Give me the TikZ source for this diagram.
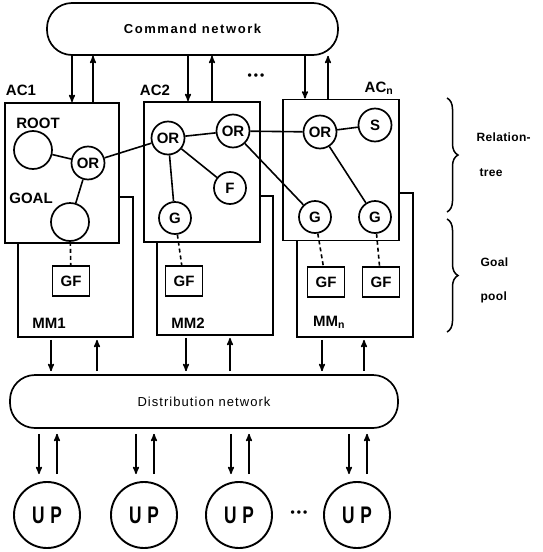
\documentclass[tikz,border=0pt]{standalone}
\usepackage{fontspec}
\setmainfont{Liberation Sans}
\usetikzlibrary{positioning}
\usetikzlibrary{arrows}
\usetikzlibrary{decorations.pathreplacing}
\newcommand{\lblfont}{\bfseries\fontsize{15}{17}\selectfont}
\newcommand{\netfont}{\bfseries\fontsize{13}{15}\selectfont\addfontfeatures{LetterSpace=12}}
\newcommand{\distfont}{\fontsize{13}{15}\selectfont\addfontfeatures{LetterSpace=8}}
\newcommand{\upfont}{\bfseries\fontsize{24}{26}\selectfont}
\newcommand{\narrowtxt}[1]{\scalebox{0.72}[1]{#1}}
\newcommand{\dotsrow}{\fontsize{12}{12}\selectfont\textbullet\,\textbullet\,\textbullet}
\tikzset{>=stealth',
      every node/.style={font=\lblfont},
      net/.style={draw, line width=1.7pt, rounded corners=25pt, inner sep=0pt},
      unit/.style={draw, line width=1.9pt, fill=white, inner sep=0pt},
      tnode/.style={circle, draw, line width=1.7pt, fill=white, minimum size=33pt, inner sep=0pt},
      gfbox/.style={draw, line width=1.7pt, fill=white, minimum width=37pt, minimum height=30pt, inner sep=0pt},
      upnode/.style={circle, draw, line width=1.9pt, minimum size=66pt, inner sep=0pt, font=\upfont},
      side/.style={anchor=west, font=\bfseries\fontsize{12}{14}\selectfont\addfontfeatures{LetterSpace=3}},
      link/.style={line width=1.6pt},
      gflink/.style={line width=1.6pt, dash pattern=on 4pt off 3pt},
      flow/.style={line width=1.5pt, ->}}

\begin{document}
\begin{tikzpicture}[x=1pt,y=-1pt]
          \useasboundingbox (0,0) rectangle (542,552);

          \node[net, minimum width=291, minimum height=52, font=\netfont] (cmd) at (192.5,29) {Command network};
          \node[net, minimum width=388, minimum height=53, font=\distfont] (dist) at (204,401.5) {Distribution network};

          \node[unit, minimum width=115, minimum height=140] (mm1) at (75.5,267) {};
          \node[unit, minimum width=116, minimum height=139] (mm2) at (215,265.5) {};
          \node[unit, minimum width=116, minimum height=144] (mmn) at (355,265) {};
          \node[unit, minimum width=114, minimum height=140] (ac1) at (62,173) {};
          \node[unit, minimum width=116, minimum height=140] (ac2) at (202,172) {};
          \node[unit, minimum width=116, minimum height=141] (acn) at (341,170) {};

          \node (ac1l) at (21,90) {AC1};
          \node (ac2l) at (155,90) {AC2};
          \node (acnl) at (379,88) {AC\textsubscript{n}};
          \node (mm1l) at (49,323) {MM1};
          \node (mm2l) at (188,323) {MM2};
          \node (mmnl) at (329,322) {MM\textsubscript{n}};
          \node (rootl) at (38,123) {ROOT};
          \node (goall) at (31,198) {GOAL};

          \node[tnode, minimum size=38] (root) at (33,150) {};
          \node[tnode] (or1) at (88,163) {OR};
          \node[tnode, minimum size=38] (goal) at (70,222) {};
          \node[tnode] (or2) at (168,138) {OR};
          \node[tnode] (or3) at (233,131) {OR};
          \node[tnode, minimum size=32] (f) at (230,188) {F};
          \node[tnode, minimum size=32] (g1) at (175,218) {G};
          \node[tnode] (or4) at (320,132) {OR};
          \node[tnode] (s) at (375,125) {S};
          \node[tnode, minimum size=32] (g2) at (315,217) {G};
          \node[tnode, minimum size=32] (g3) at (375,217) {G};

          \node[gfbox] (gf1) at (71,281) {GF};
          \node[gfbox] (gf2) at (184,281) {GF};
          \node[gfbox] (gf3) at (326,282) {GF};
          \node[gfbox] (gf4) at (381,282) {GF};

          \draw[link] (root) -- (or1);
          \draw[link] (or1) -- (goal);
          \draw[link] (or1) -- (or2);
          \draw[link] (or2) -- (or3);
          \draw[link] (or2) -- (f);
          \draw[link] (or2) -- (g1);
          \draw[link] (or3) -- (or4);
          \draw[link] (or3) -- (g2);
          \draw[link] (or4) -- (s);
          \draw[link] (or4) -- (g3);

          \draw[gflink] (goal) -- (gf1);
          \draw[gflink] (g1) -- (gf2);
          \draw[gflink] (g2) -- (gf3);
          \draw[gflink] (g3) -- (gf4);

          % command network <-> AC
          \foreach \b/\d/\u in {ac1/10/31, ac2/-14/10, acn/-36/-13} {
            \draw[flow] ([xshift=\d]\b.north |- cmd.south) -- ([xshift=\d]\b.north);
            \draw[flow] ([xshift=\u]\b.north) -- ([xshift=\u]\b.north |- cmd.south);
          }
          \node (dots1) at (256,77) {\dotsrow};

          % MM <-> distribution network
          \foreach \m/\d/\u in {mm1/-24.5/21.5, mm2/-29/15, mmn/-33/9} {
            \draw[flow, shorten <=2, shorten >=3] ([xshift=\d]\m.south) -- ([xshift=\d]\m.south |- dist.north);
            \draw[flow, shorten <=3, shorten >=2] ([xshift=\u]\m.south |- dist.north) -- ([xshift=\u]\m.south);
          }

          \node[upnode] (up1) at (47,515) {\narrowtxt{U\,\,P}};
          \node[upnode] (up2) at (144,515) {\narrowtxt{U\,\,P}};
          \node[upnode] (up3) at (239,515) {\narrowtxt{U\,\,P}};
          \node[upnode] (up4) at (357,515) {\narrowtxt{U\,\,P}};
          \node (dots2) at (299,514) {\dotsrow};

          % distribution network <-> UP
          \foreach \p in {up1,up2,up3,up4} {
            \draw[flow, shorten <=5, shorten >=7] ([xshift=-8]\p.north |- dist.south) -- ([xshift=-8]\p.north);
            \draw[flow, shorten <=7, shorten >=5] ([xshift=10]\p.north) -- ([xshift=10]\p.north |- dist.south);
          }

          % braces
          \draw[line width=1.5pt, decorate, decoration={brace, amplitude=11pt}] (447,98) -- (447,212);
          \draw[line width=1.5pt, decorate, decoration={brace, amplitude=11pt}] (447,219) -- (447,332);
          \node[side] (rel) at (473,137) {Relation-};
          \node[side] (tree) at (476,173) {tree};
          \node[side] (goalt) at (477,262) {Goal};
          \node[side] (pool) at (477,297) {pool};
       \end{tikzpicture}
\end{document}
